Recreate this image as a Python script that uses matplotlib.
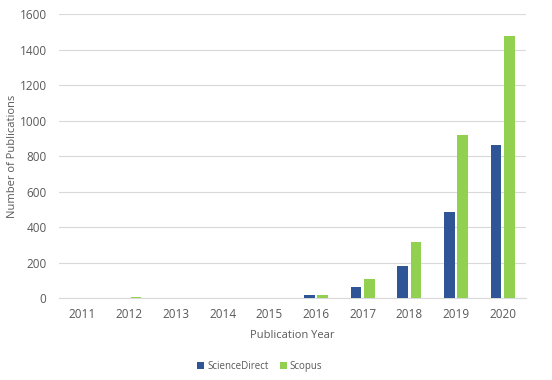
import matplotlib.pyplot as plt
import numpy as np

years = ["2011", "2012", "2013", "2014", "2015", "2016", "2017", "2018", "2019", "2020"]
sciencedirect = [0, 0, 2, 2, 0, 18, 63, 180, 486, 861]
scopus = [0, 8, 5, 0, 5, 21, 110, 320, 921, 1479]

plt.rcParams["font.family"] = ["Open Sans", "DejaVu Sans"]
grey = "#595959"

fig = plt.figure(figsize=(5.52, 3.8), dpi=100)
ax = fig.add_axes([0.107, 0.2145, 0.846, 0.7485])

x = np.arange(len(years))
w = 0.225
ax.bar(x - w / 2 - 0.03, sciencedirect, w, color="#2F5597", label="ScienceDirect", zorder=3)
ax.bar(x + w / 2 + 0.03, scopus, w, color="#92D050", label="Scopus", zorder=3)

ax.set_xlim(-0.5, len(years) - 0.5)
ax.set_ylim(0, 1600)
ax.set_yticks(range(0, 1601, 200))
ax.set_xticks(x)
ax.set_xticklabels(years)
ax.yaxis.grid(True, color="#D9D9D9", linewidth=0.8, zorder=0)
for s in ["top", "right", "left"]:
    ax.spines[s].set_visible(False)
ax.spines["bottom"].set_color("#D9D9D9")
ax.spines["bottom"].set_zorder(1)
ax.tick_params(length=0, colors=grey, labelsize=8.5)
ax.tick_params(axis="x", pad=7)
ax.tick_params(axis="y", pad=9)

ax.set_xlabel("Publication Year", color=grey, fontsize=8)
ax.set_ylabel("Number of Publications", color=grey, fontsize=8)
ax.xaxis.set_label_coords(0.5, -0.11)
ax.yaxis.set_label_coords(-0.088, 0.5)

ax.legend(loc="upper center", bbox_to_anchor=(0.43, -0.19), ncol=2, frameon=False,
          fontsize=7, labelcolor=grey, handlelength=0.7, handleheight=0.7,
          handletextpad=0.3, columnspacing=1.2)

fig.savefig("out.png", dpi=100)
